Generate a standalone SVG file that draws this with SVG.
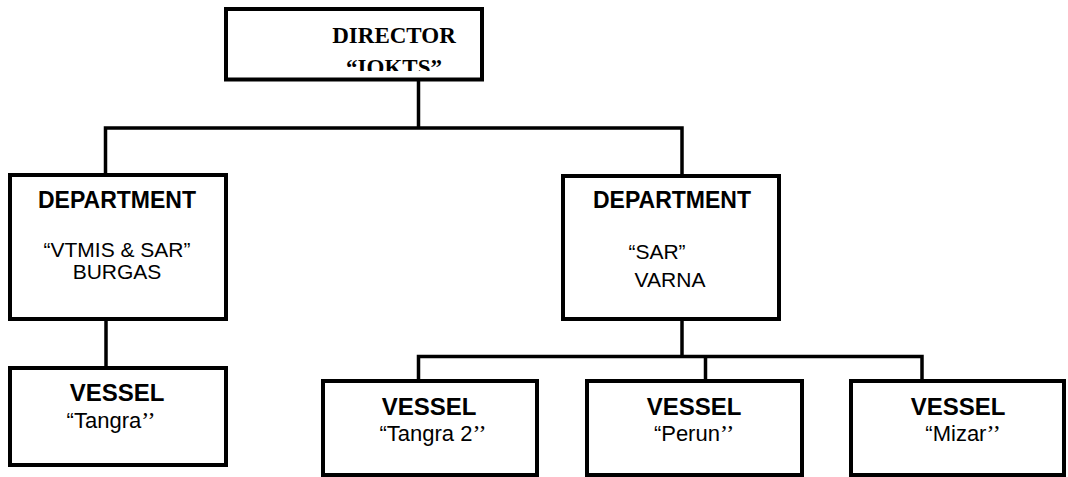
<svg xmlns="http://www.w3.org/2000/svg" width="1068" height="477" viewBox="0 0 1068 477">
<style>
.box{fill:#fff;stroke:#000;stroke-width:4}
.ln{fill:none;stroke:#000;stroke-width:3.5}
.ttl{font-family:"Liberation Sans",Arial,sans-serif;font-weight:bold;text-anchor:middle;fill:#000}
.sub{font-family:"Liberation Sans",Arial,sans-serif;text-anchor:middle;fill:#000}
.dir{font-family:"Liberation Serif","Times New Roman",serif;font-weight:bold;text-anchor:middle;font-size:23px;fill:#000}
.q{font-family:"Liberation Serif","Times New Roman",serif;font-size:24px}
</style>
<defs>
<clipPath id="dirclip"><rect x="226" y="9" width="256" height="62"/></clipPath>
</defs>
<rect width="1068" height="477" fill="#fff"/>
<g id="connectors">
<path class="ln" d="M418.5,81 V128"/>
<path class="ln" d="M105.5,175 V128 H682 V176"/>
<path class="ln" d="M106,319 V368"/>
<path class="ln" d="M682,319 V356.5"/>
<path class="ln" d="M418.5,381 V356.5 H922 V381"/>
<path class="ln" d="M705.5,356.5 V381"/>
</g>
<g id="director">
<rect class="box" x="226" y="9" width="256" height="70.5"/>
<g clip-path="url(#dirclip)">
<text class="dir" x="394" y="43">DIRECTOR</text>
<text class="dir" x="394" y="74.5">“IOKTS”</text>
</g>
</g>
<g id="dept-burgas">
<rect class="box" x="10" y="175" width="216" height="144"/>
<text class="ttl" x="117" y="208" font-size="23">DEPARTMENT</text>
<text class="sub" x="117" y="257" font-size="21">“VTMIS &amp; SAR”</text>
<text class="sub" x="117" y="279" font-size="21">BURGAS</text>
</g>
<g id="dept-varna">
<rect class="box" x="563" y="176" width="216" height="143"/>
<text class="ttl" x="672" y="208" font-size="23">DEPARTMENT</text>
<text class="sub" x="657" y="259" font-size="21">“SAR”</text>
<text class="sub" x="670" y="287" font-size="21">VARNA</text>
</g>
<g id="vessel-tangra">
<rect class="box" x="10" y="368" width="216" height="97"/>
<text class="ttl" x="117" y="401" font-size="24">VESSEL</text>
<text class="sub" x="111" y="428" font-size="22">“Tangra<tspan class="q">’’</tspan></text>
</g>
<g id="vessel-tangra2">
<rect class="box" x="323" y="381" width="214" height="94"/>
<text class="ttl" x="429" y="415" font-size="24">VESSEL</text>
<text class="sub" x="433" y="441" font-size="22">“Tangra 2<tspan class="q">’’</tspan></text>
</g>
<g id="vessel-perun">
<rect class="box" x="587" y="381" width="215" height="94"/>
<text class="ttl" x="694" y="415" font-size="24">VESSEL</text>
<text class="sub" x="694" y="441" font-size="22">“Perun<tspan class="q">’’</tspan></text>
</g>
<g id="vessel-mizar">
<rect class="box" x="851" y="381" width="213" height="94"/>
<text class="ttl" x="958" y="415" font-size="24">VESSEL</text>
<text class="sub" x="963" y="441" font-size="22">“Mizar<tspan class="q">’’</tspan></text>
</g>
</svg>
